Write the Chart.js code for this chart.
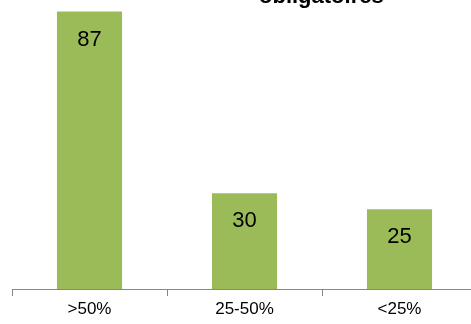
<!DOCTYPE html>
<html>
<head>
<meta charset="utf-8">
<script src="https://cdn.jsdelivr.net/npm/chart.js@4/dist/chart.umd.min.js"></script>
<style>
  html, body { margin: 0; padding: 0; background: #fff; overflow: hidden; }
  #wrap { position: relative; width: 471px; height: 324px; overflow: hidden; }
  #box { position: absolute; left: 0; top: 0; width: 490px; height: 324px; }
  #title {
    position: absolute; left: 259px; top: -17px; line-height: 22px;
    font: bold 22px "Liberation Sans", Arial, sans-serif; color: #000; white-space: nowrap;
  }
</style>
</head>
<body>
<div id="wrap">
  <div id="box"><canvas id="chart"></canvas></div>
  <div id="title">obligatoires</div>
</div>
<script>
'use strict';

const categories = ['>50%', '25-50%', '<25%'];
const values = [87, 30, 25];
const barColor = '#9bbb59';

// writes each value inside its bar, a little below the top
const valueLabels = {
  id: 'valueLabels',
  afterDatasetsDraw(chart) {
    const ctx = chart.ctx;
    const meta = chart.getDatasetMeta(0);
    ctx.save();
    ctx.font = '22px "Liberation Sans", Arial, sans-serif';
    ctx.fillStyle = '#000';
    ctx.textAlign = 'center';
    ctx.textBaseline = 'middle';
    meta.data.forEach(function(bar, i) {
      ctx.fillText(String(values[i]), bar.x, bar.y + 28);
    });
    ctx.restore();
  }
};

new Chart(document.getElementById('chart'), {
  type: 'bar',
  data: {
    labels: categories,
    datasets: [{
      data: values,
      backgroundColor: barColor,
      borderWidth: 0,
      barPercentage: 0.42,
      categoryPercentage: 1
    }]
  },
  options: {
    responsive: true,
    maintainAspectRatio: false,
    animation: false,
    layout: { padding: { left: 12, right: 13, top: 2, bottom: 0 } },
    plugins: {
      legend: { display: false },
      tooltip: { enabled: false }
    },
    scales: {
      x: {
        offset: true,
        grid: {
          offset: true,
          drawOnChartArea: false,
          tickLength: 7,
          color: '#868686',
          lineWidth: 1
        },
        border: { display: true, color: '#868686', width: 1 },
        ticks: {
          padding: 3,
          color: '#000',
          font: { family: '"Liberation Sans", Arial, sans-serif', size: 17 }
        },
        afterFit(scale) { scale.height = 35; }
      },
      y: {
        display: false,
        min: 0,
        max: 90
      }
    }
  },
  plugins: [valueLabels]
});
</script>
</body>
</html>
